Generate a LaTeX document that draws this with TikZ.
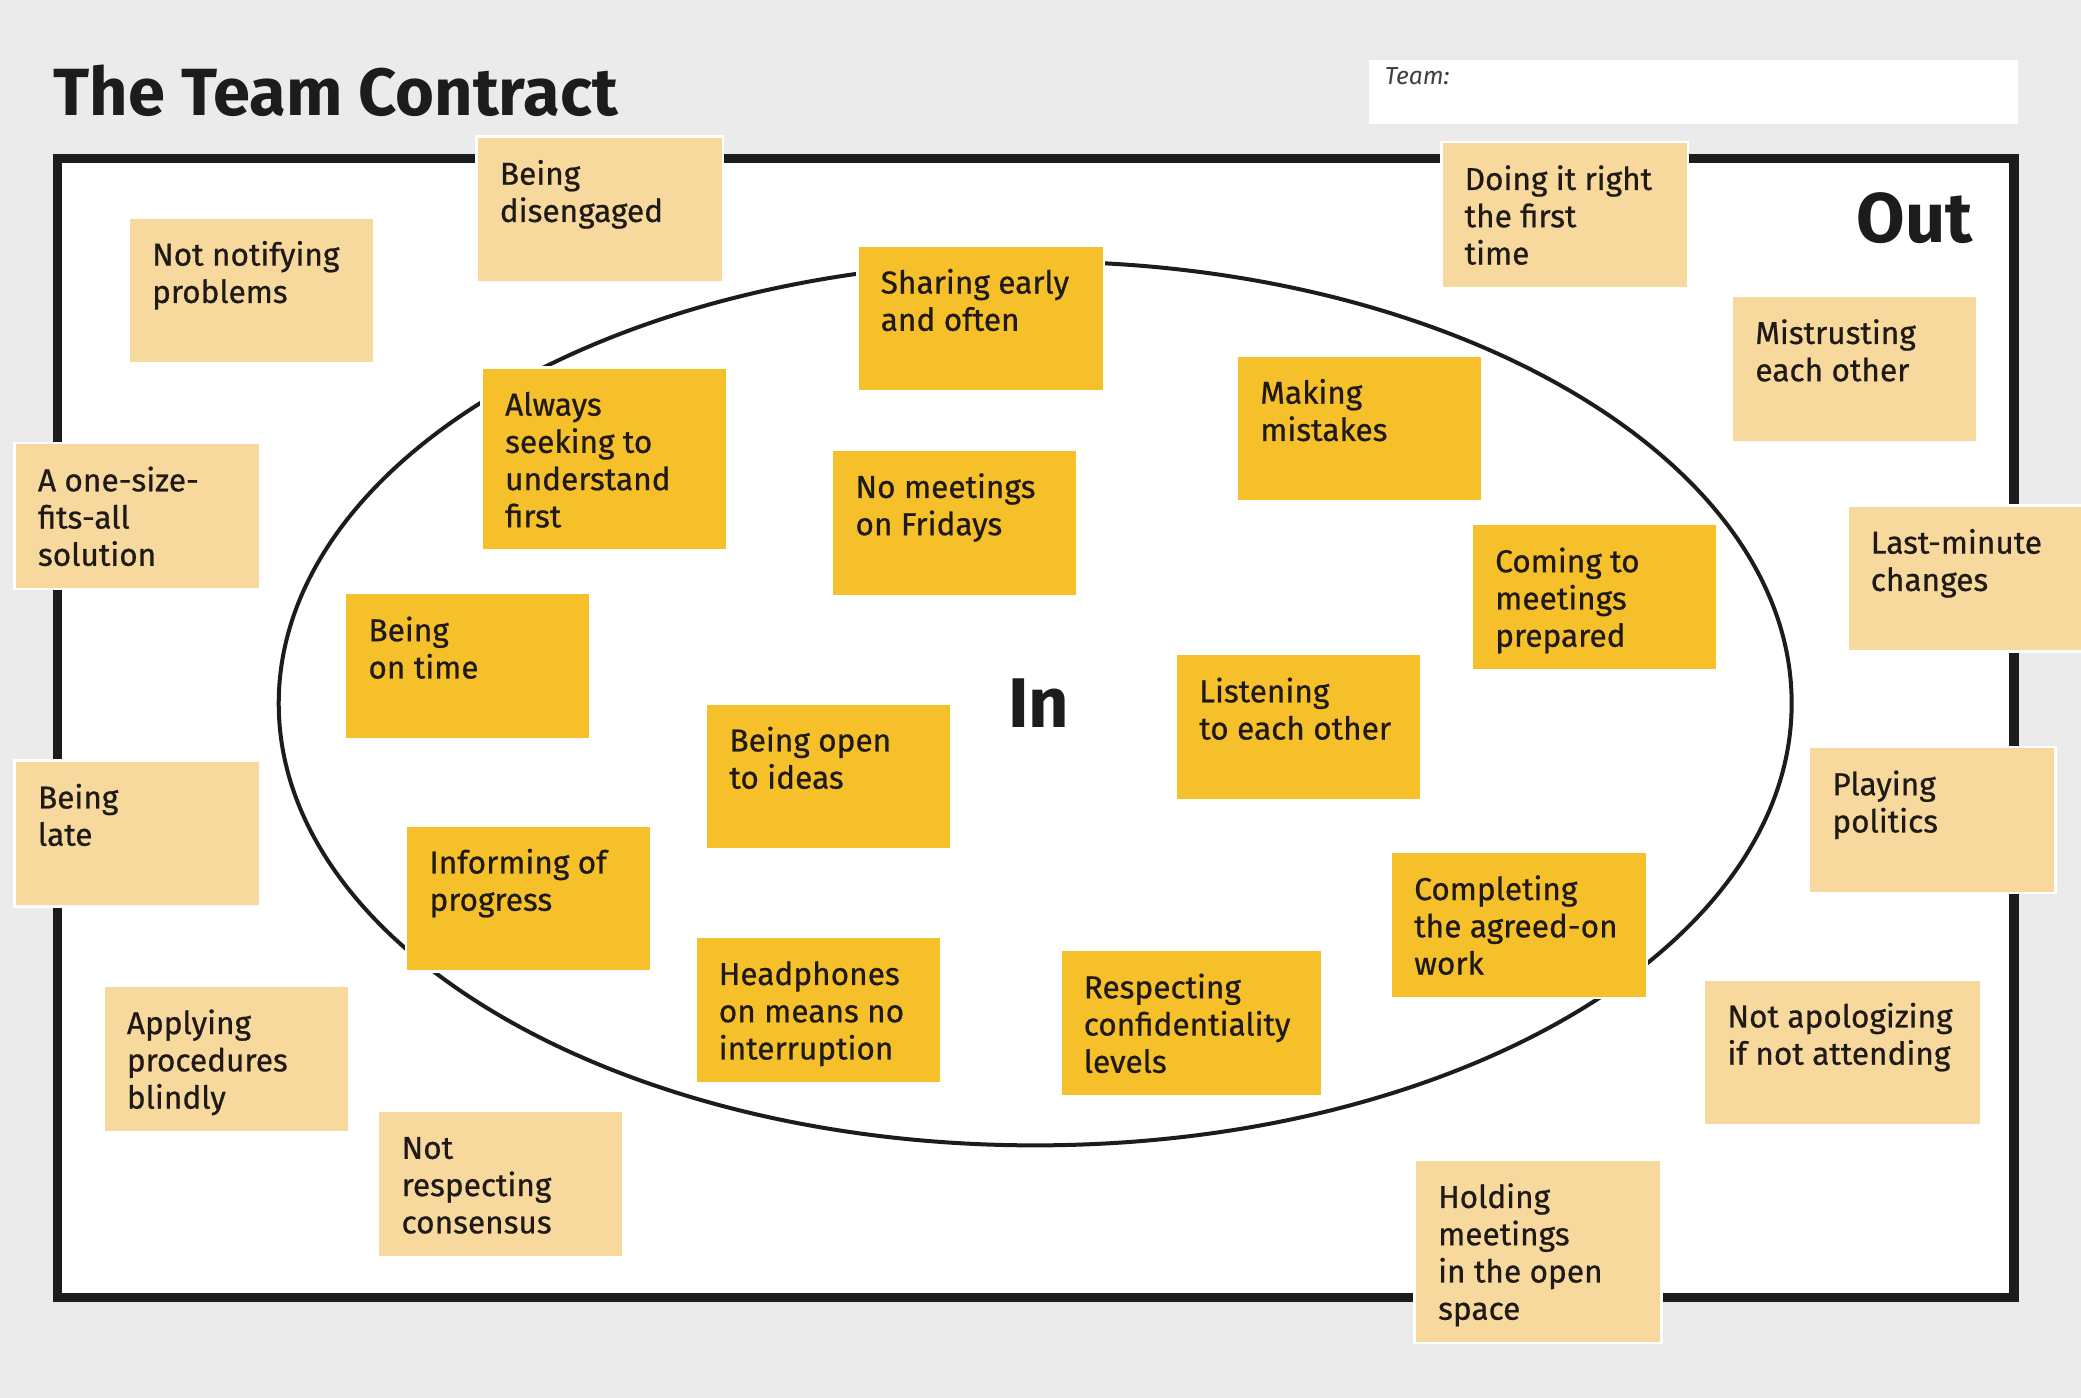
\documentclass[tikz,border=0pt]{standalone}
\usepackage{fontspec}
\setmainfont{Fira Sans}
\newfontfamily\notefont{Fira Sans}[FakeBold=0.7]
\usetikzlibrary{positioning}
\definecolor{boardgray}{RGB}{235,235,235}
\definecolor{framedark}{RGB}{28,28,28}
\definecolor{outpaper}{RGB}{247,217,157}
\definecolor{inpaper}{RGB}{245,192,42}
\definecolor{inktext}{RGB}{31,26,23}
\newcommand{\pxu}{0.1327mm}

\begin{document}
\begin{tikzpicture}[x=0.1327mm, y=-0.1327mm,
    note/.style={anchor=north west, inner sep=0, draw=white, line width=0.25mm,
                 minimum width=185*\pxu, minimum height=110*\pxu},
    outnote/.style={note, fill=outpaper},
    innote/.style={note, fill=inpaper},
    notetext/.style={inner sep=0, align=left, text=inktext,
                     font=\fontsize{9}{10.6}\notefont,
                     below right=2.25mm and 2.4mm of #1.north west},
    bigword/.style={inner sep=0, text=framedark, font=\fontsize{20}{22}\selectfont\bfseries}]
    \clip (0,0) rectangle (1568,1053);
    \fill[boardgray] (0,0) rectangle (1568,1053);
    % heading and team field
    \node[anchor=base west, inner sep=0, text=framedark,
          font=\fontsize{19}{21}\selectfont\bfseries] (title) at (40,87) {The Team Contract};
    \node[anchor=north west, fill=white, inner sep=0,
          minimum width=489*\pxu, minimum height=48*\pxu] (teambox) at (1031,45) {};
    \node[anchor=base west, inner sep=0, text=black!75,
          font=\fontsize{7}{8}\selectfont\itshape] (teamlabel) at (1043,64) {Team:};
    % board
    \draw[framedark, line width=0.93mm, fill=white] (43.5,119.5) rectangle (1517.5,977.5);
    \draw[framedark, line width=0.4mm] (780,530) ellipse [x radius=75.64mm, y radius=44.19mm];
    \node[bigword, anchor=base east] (outword) at (1487,183) {Out};
    \node[bigword, anchor=base west] (inword) at (759,548) {In};
    % out notes
    \node[outnote] (notify) at (96,163) {};
    \node[notetext=notify] (notify-t) {\strut Not notifying\\problems};
    \node[outnote, minimum width=186*\pxu] (disengaged) at (358,102) {};
    \node[notetext=disengaged] (disengaged-t) {\strut Being\\disengaged};
    \node[outnote] (onesize) at (10,333) {};
    \node[notetext=onesize] (onesize-t) {\strut A one-size-\\fits-all\\solution};
    \node[outnote] (late) at (10,572) {};
    \node[notetext=late] (late-t) {\strut Being\\late};
    \node[outnote] (blindly) at (77,742) {};
    \node[notetext=blindly] (blindly-t) {\strut Applying\\procedures\\blindly};
    \node[outnote] (consensus) at (284,836) {};
    \node[notetext=consensus] (consensus-t) {\strut Not\\respecting\\consensus};
    \node[outnote, minimum width=186*\pxu] (rightfirst) at (1085,106) {};
    \node[notetext=rightfirst] (rightfirst-t) {\strut Doing it right\\the first\\time};
    \node[outnote] (mistrust) at (1304,222) {};
    \node[notetext=mistrust] (mistrust-t) {\strut Mistrusting\\each other};
    \node[outnote] (lastminute) at (1391,380) {};
    \node[notetext=lastminute] (lastminute-t) {\strut Last-minute\\changes};
    \node[outnote, minimum width=186*\pxu] (politics) at (1362,562) {};
    \node[notetext=politics] (politics-t) {\strut Playing\\politics};
    \node[outnote, minimum width=209*\pxu] (apologize) at (1283,737) {};
    \node[notetext=apologize] (apologize-t) {\strut Not apologizing\\if not attending};
    \node[outnote, minimum width=186*\pxu, minimum height=138*\pxu] (openspace) at (1065,873) {};
    \node[notetext=openspace] (openspace-t) {\strut Holding\\meetings\\in the open\\space};
    % in notes
    \node[innote, minimum width=186*\pxu] (sharing) at (645,184) {};
    \node[notetext=sharing] (sharing-t) {\strut Sharing early\\and often};
    \node[innote, minimum height=138*\pxu] (understand) at (362,276) {};
    \node[notetext=understand] (understand-t) {\strut Always\\seeking to\\understand\\first};
    \node[innote] (fridays) at (626,338) {};
    \node[notetext=fridays] (fridays-t) {\strut No meetings\\on Fridays};
    \node[innote] (mistakes) at (931,267) {};
    \node[notetext=mistakes] (mistakes-t) {\strut Making\\mistakes};
    \node[innote] (prepared) at (1108,394) {};
    \node[notetext=prepared] (prepared-t) {\strut Coming to\\meetings\\prepared};
    \node[innote] (ontime) at (259,446) {};
    \node[notetext=ontime] (ontime-t) {\strut Being\\on time};
    \node[innote] (openideas) at (531,529) {};
    \node[notetext=openideas] (openideas-t) {\strut Being open\\to ideas};
    \node[innote] (listening) at (885,492) {};
    \node[notetext=listening] (listening-t) {\strut Listening\\to each other};
    \node[innote] (progress) at (305,621) {};
    \node[notetext=progress] (progress-t) {\strut Informing of\\progress};
    \node[innote, minimum width=193*\pxu] (agreed) at (1047,641) {};
    \node[notetext=agreed] (agreed-t) {\strut Completing\\the agreed-on\\work};
    \node[innote] (headphones) at (523,705) {};
    \node[notetext=headphones] (headphones-t) {\strut Headphones\\on means no\\interruption};
    \node[innote, minimum width=197*\pxu] (confidential) at (798,715) {};
    \node[notetext=confidential] (confidential-t) {\strut Respecting\\confidentiality\\levels};
\end{tikzpicture}
\end{document}
